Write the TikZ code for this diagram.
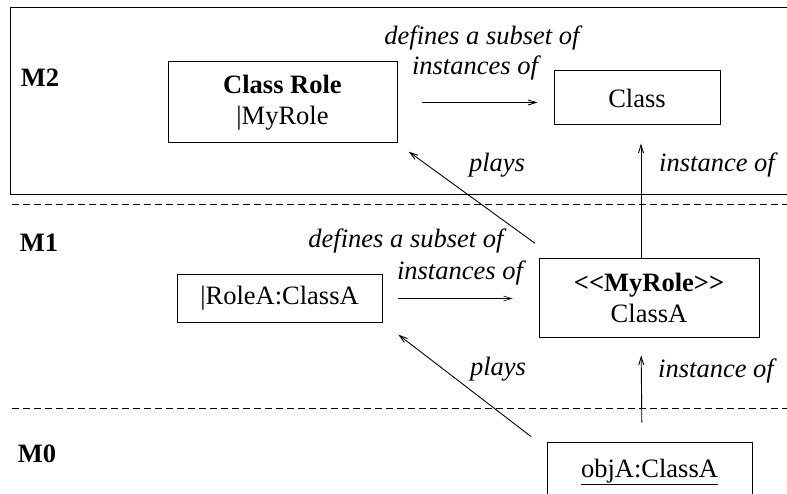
\documentclass[tikz,border=0pt]{standalone}
\usepackage{fontspec}
\setmainfont{Liberation Serif}
\usetikzlibrary{arrows.meta}

\begin{document}
\begin{tikzpicture}
[x=1pt,y=-1pt,font=\fontsize{26.5}{31}\selectfont,
  boxdecorate/.style={shape=rectangle,draw,line width=1pt,inner sep=0pt,align=center},
  linedecorate/.style={-{Straight Barb[length=8pt,width=5pt]},line width=0.9pt},
  labeldecorate/.style={font=\fontsize{26.5}{30}\selectfont\itshape,anchor=base,inner sep=0pt},
  layerdecorate/.style={font=\fontsize{26.5}{30}\selectfont\bfseries,inner sep=0pt},
  sepdecorate/.style={dash pattern=on 7pt off 4pt,line width=0.9pt}]
\useasboundingbox (0,0) rectangle (787,494);
%% frame of the upper level and the level separators
\draw[line width=1pt] (10,8) rectangle (800,195);
\foreach \y in {204,408}
  \draw[sepdecorate] (12,\y) -- (787,\y);
%% level names
\foreach \nodename/\x/\y in {M2/40/78, M1/39/243, M0/37/454}
  \node (\nodename) at (\x,\y) [layerdecorate] {\nodename};
%% boxes
\node (classrole) at (282.5,102.5) [boxdecorate,minimum width=229pt,minimum height=81pt]
  {\textbf{Class Role}\\|MyRole};
\node (class) at (637,98) [boxdecorate,minimum width=166pt,minimum height=54pt] {Class};
\node (rolea) at (279.5,298.5) [boxdecorate,minimum width=205pt,minimum height=47pt]
  {|RoleA:ClassA};
\node (myrole) at (649,298) [boxdecorate,minimum width=220pt,minimum height=78pt]
  {\textbf{<\kern0pt<MyRole>\kern0pt>}\\ClassA};
\node (obja) at (649.5,472) [boxdecorate,minimum width=205pt,minimum height=60pt]
  {\underline{objA:ClassA}};
%% edge labels, placed on their base lines
\node (defupper) at (482,45) [labeldecorate] {defines a subset of};
\node (instsupper) at (475,75) [labeldecorate] {instances of};
\node (playsupper) at (497,172) [labeldecorate] {plays};
\node (instupper) at (717,172) [labeldecorate] {instance of};
\node (deflower) at (406,248) [labeldecorate] {defines a subset of};
\node (instslower) at (460,280) [labeldecorate] {instances of};
\node (playslower) at (498,375) [labeldecorate] {plays};
\node (instlower) at (716,377) [labeldecorate] {instance of};
%% edges
\draw[linedecorate,shorten <=24pt,shorten >=16pt] (classrole.east) -- (classrole.east -| class.west);
\draw[linedecorate,line width=0.6pt,shorten <=15pt,shorten >=26pt] (rolea.east) -- (rolea.east -| myrole.west);
\draw[linedecorate,shorten <=26pt,shorten >=14pt] (myrole.157.5) -- (classrole.south east);
\draw[linedecorate,shorten <=8pt,shorten >=20pt] ([xshift=-9pt]obja.north west) -- (rolea.south east);
\draw[linedecorate,shorten >=18pt] ([xshift=-8pt]myrole.north) -- ([xshift=4pt]class.south);
\draw[linedecorate,shorten <=19pt,shorten >=18pt] ([xshift=-7.5pt]obja.north) -- ([xshift=-8pt]myrole.south);
\end{tikzpicture}
\end{document}
